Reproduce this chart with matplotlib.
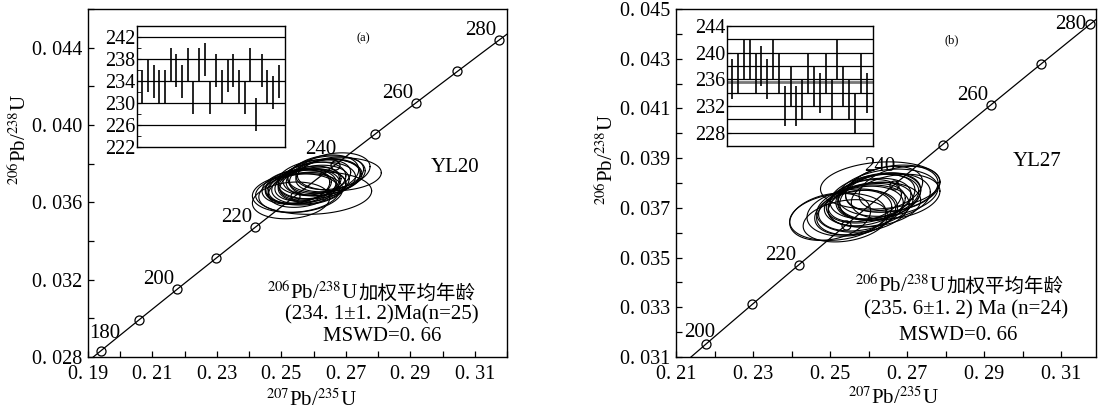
import numpy as np
import matplotlib.pyplot as plt
from matplotlib.ticker import FixedLocator, FuncFormatter

plt.rcParams['font.family'] = ['Liberation Serif', 'Noto Sans CJK SC']
plt.rcParams['mathtext.fontset'] = 'stix'

# decay constants, per Ma
L238 = 1.55125e-4
L235 = 9.8485e-4

# concordia age marks
conc_ages_a = [180, 190, 200, 210, 220, 230, 240, 250, 260, 270, 280]
conc_labels_a = [180, 200, 220, 240, 260, 280]
conc_ages_b = [200, 210, 220, 230, 240, 250, 260, 270, 280]
conc_labels_b = [200, 220, 240, 260, 280]

# tick values
xt_a = [0.19, 0.21, 0.23, 0.25, 0.27, 0.29, 0.31]
yt_a = [0.028, 0.032, 0.036, 0.040, 0.044]
xt_b = [0.21, 0.23, 0.25, 0.27, 0.29, 0.31]
yt_b = [0.031, 0.033, 0.035, 0.037, 0.039, 0.041, 0.043, 0.045]
it_a = [222, 226, 230, 234, 238, 242]
it_b = [228, 232, 236, 240, 244]

# YL20 spot ellipses: 207Pb/235U, 206Pb/238U, 2s errors, rho
a_x = [0.2560, 0.2610, 0.2590, 0.2545, 0.2575, 0.2630, 0.2620, 0.2580, 0.2640, 0.2545,
       0.2650, 0.2660, 0.2600, 0.2615, 0.2570, 0.2595, 0.2625, 0.2555, 0.2560, 0.2680,
       0.2530, 0.2635, 0.2585, 0.2565, 0.2600]
a_y = [0.03681, 0.03713, 0.03697, 0.03681, 0.03681, 0.03745, 0.03729, 0.03697, 0.03745, 0.03648,
       0.03745, 0.03761, 0.03648, 0.03729, 0.03681, 0.03713, 0.03729, 0.03681, 0.03648, 0.03745,
       0.03610, 0.03729, 0.03681, 0.03664, 0.03697]
a_sx = [0.0110, 0.0120, 0.0095, 0.0105, 0.0125, 0.0110, 0.0130, 0.0100, 0.0120, 0.0135,
        0.0105, 0.0115, 0.0180, 0.0100, 0.0110, 0.0105, 0.0120, 0.0100, 0.0130, 0.0130,
        0.0120, 0.0110, 0.0115, 0.0105, 0.0110]
a_sy = [0.00090, 0.00095, 0.00085, 0.00090, 0.00095, 0.00100, 0.00095, 0.00090, 0.00095, 0.00100,
        0.00090, 0.00095, 0.00110, 0.00090, 0.00090, 0.00095, 0.00095, 0.00085, 0.00100, 0.00085,
        0.00095, 0.00095, 0.00090, 0.00090, 0.00095]
a_rho = [0.25, 0.20, 0.30, 0.25, 0.15, 0.25, 0.20, 0.30, 0.20, 0.15,
         0.30, 0.25, 0.10, 0.30, 0.25, 0.25, 0.20, 0.30, 0.20, 0.10,
         0.15, 0.25, 0.20, 0.25, 0.25]

# YL27 spot ellipses
b_x = [0.2600, 0.2630, 0.2660, 0.2640, 0.2615, 0.2650, 0.2590, 0.2630, 0.2620, 0.2520,
       0.2605, 0.2500, 0.2570, 0.2670, 0.2595, 0.2580, 0.2640, 0.2555, 0.2680, 0.2610,
       0.2560, 0.2540, 0.2625, 0.2585]
b_y = [0.03729, 0.03745, 0.03777, 0.03777, 0.03745, 0.03761, 0.03729, 0.03790, 0.03745, 0.03664,
       0.03713, 0.03664, 0.03681, 0.03745, 0.03713, 0.03697, 0.03745, 0.03681, 0.03777, 0.03713,
       0.03681, 0.03648, 0.03745, 0.03697]
b_sx = [0.0110, 0.0105, 0.0120, 0.0100, 0.0115, 0.0130, 0.0095, 0.0155, 0.0100, 0.0125,
        0.0110, 0.0105, 0.0105, 0.0115, 0.0100, 0.0110, 0.0120, 0.0115, 0.0105, 0.0125,
        0.0100, 0.0110, 0.0110, 0.0120]
b_sy = [0.00090, 0.00095, 0.00095, 0.00090, 0.00090, 0.00095, 0.00085, 0.00095, 0.00090, 0.00095,
        0.00090, 0.00095, 0.00090, 0.00090, 0.00085, 0.00090, 0.00095, 0.00095, 0.00090, 0.00090,
        0.00090, 0.00085, 0.00095, 0.00095]
b_rho = [0.30, 0.30, 0.25, 0.30, 0.25, 0.20, 0.30, 0.15, 0.30, 0.20,
         0.25, 0.25, 0.25, 0.25, 0.30, 0.25, 0.20, 0.20, 0.30, 0.20,
         0.25, 0.25, 0.25, 0.20]

# weighted mean insets: 206Pb/238U ages and errors (Ma)
ages_a = [233, 235, 234, 233, 233, 237, 236, 234, 237, 231, 237, 238, 231,
          236, 233, 235, 236, 233, 231, 237, 228, 236, 233, 232, 234]
err_a = [3] * len(ages_a)
ages_b = [236, 237, 239, 239, 237, 238, 236, 239, 237, 232, 235, 232,
          233, 237, 235, 234, 237, 233, 239, 235, 233, 231, 237, 234]
err_b = [3] * len(ages_b)

W, H = 1099, 411
fig = plt.figure(figsize=(W / 100, H / 100), dpi=100)
FS = 15


def px(l, t, r, b):
    return [l / W, 1 - b / H, (r - l) / W, (b - t) / H]


def fx(x):
    return x / W


def fy(y):
    return 1 - y / H


def draw_main(ax, xs, ys, sxs, sys_, rhos, ages, labels, offsets):
    t = np.linspace(0, 2 * np.pi, 120)
    for cx, cy, sx, sy, rho in zip(xs, ys, sxs, sys_, rhos):
        ex = cx + sx * np.cos(t)
        ey = cy + sy * (rho * np.cos(t) + np.sqrt(1 - rho ** 2) * np.sin(t))
        ax.plot(ex, ey, color='k', lw=0.8)
    tc = np.linspace(150, 300, 300)
    ax.plot(np.exp(L235 * tc) - 1, np.exp(L238 * tc) - 1, color='k', lw=0.9)
    ages = np.array(ages)
    mx = np.exp(L235 * ages) - 1
    my = np.exp(L238 * ages) - 1
    ax.plot(mx, my, 'o', mfc='none', mec='k', ms=6.5, mew=0.9)
    for age, x, y in zip(ages, mx, my):
        if age in labels:
            dx, dy, ha, va = offsets.get(age, (-2, 0, 'right', 'bottom'))
            ax.annotate(str(age), (x, y), xytext=(dx, dy), textcoords='offset points',
                        ha=ha, va=va, fontsize=FS)
    ax.tick_params(direction='in', which='both', length=4, width=0.9, labelsize=14.5,
                   top=False, right=False)
    ax.tick_params(axis='x', pad=6)
    ax.tick_params(axis='y', pad=4)
    for s in ax.spines.values():
        s.set_linewidth(1.0)


def set_ticks(ax, xt, yt, xstep, ystep):
    ax.xaxis.set_major_locator(FixedLocator(xt))
    ax.xaxis.set_minor_locator(FixedLocator([v + xstep for v in xt]))
    ax.yaxis.set_major_locator(FixedLocator(yt))
    ax.yaxis.set_minor_locator(FixedLocator([v + ystep for v in yt]))
    ax.xaxis.set_major_formatter(FuncFormatter(lambda v, p: '0. %02d' % round(v * 100)))
    ax.yaxis.set_major_formatter(FuncFormatter(lambda v, p: '0. %03d' % round(v * 1000)))


def draw_inset(ax, ages, errs, ylim, lines, ticks, mean=None):
    idx = np.arange(1, len(ages) + 1)
    ages = np.array(ages)
    errs = np.array(errs)
    for v in lines:
        ax.axhline(v, color='k', lw=0.9)
    if mean is not None:
        ax.axhline(mean, color='#777777', lw=2.0)
    ax.vlines(idx, ages - errs, ages + errs, color='k', lw=1.2)
    ax.set_xlim(0.1, len(ages) + 1.1)
    ax.set_ylim(*ylim)
    ax.set_xticks([])
    ax.yaxis.set_major_locator(FixedLocator(ticks))
    ax.yaxis.set_minor_locator(FixedLocator([v + 2 for v in ticks]))
    ax.tick_params(direction='in', which='both', length=3, labelsize=14.5, pad=1)
    for s in ax.spines.values():
        s.set_linewidth(1.0)


def age_text(x0, y0):
    # 206Pb/238U part in mathtext, Chinese part as plain text right after it
    t1 = fig.text(fx(x0), fy(y0), r'$^{206}$Pb/$^{238}$U', ha='left', va='baseline', fontsize=FS)
    fig.canvas.draw()
    bb = t1.get_window_extent()
    fig.text(bb.x1 / W + 1 / W, fy(y0), '加权平均年龄', ha='left', va='baseline',
             fontsize=FS - 1, family=['Noto Sans CJK SC'])


# ---- panel (a)
ax1 = fig.add_axes(px(88, 9, 507, 357))
draw_main(ax1, a_x, a_y, a_sx, a_sy, a_rho, conc_ages_a, conc_labels_a,
          {180: (3, 6, 'center', 'bottom'), 240: (1, 4, 'right', 'bottom')})
ax1.set_xlim(0.19, 0.32)
ax1.set_ylim(0.028, 0.046)
set_ticks(ax1, xt_a, yt_a, 0.01, 0.002)

ins1 = fig.add_axes(px(137, 26, 285, 147))
draw_inset(ins1, ages_a, err_a, (222, 244), [226, 230, 234, 238, 242], it_a)

fig.text(fx(20), fy(140), r'$^{206}$Pb/$^{238}$U', rotation=90, ha='center', va='center', fontsize=FS)
fig.text(fx(311), fy(400), r'$^{207}$Pb/$^{235}$U', ha='center', va='center', fontsize=FS)
fig.text(fx(363), fy(38), '(a)', ha='center', va='center', fontsize=9)
fig.text(fx(455), fy(167), 'YL20', ha='center', va='center', fontsize=FS)
age_text(267, 299)
fig.text(fx(382), fy(315), '(234. 1±1. 2)Ma(n=25)', ha='center', va='center', fontsize=FS)
fig.text(fx(382), fy(336), 'MSWD=0. 66', ha='center', va='center', fontsize=FS)

# ---- panel (b)
ax2 = fig.add_axes(px(676, 9, 1096, 357))
draw_main(ax2, b_x, b_y, b_sx, b_sy, b_rho, conc_ages_b, conc_labels_b,
          {200: (7, 2, 'right', 'bottom'), 240: (1, 6, 'right', 'bottom'),
           280: (-3, 0, 'right', 'center')})
ax2.set_xlim(0.21, 0.319)
ax2.set_ylim(0.031, 0.045)
set_ticks(ax2, xt_b, yt_b, 0.01, 0.001)

ins2 = fig.add_axes(px(727, 26, 873, 146))
draw_inset(ins2, ages_b, err_b, (226, 244), [228, 230, 232, 234, 236, 238, 240, 242], it_b,
           mean=235.6)

fig.text(fx(607), fy(160), r'$^{206}$Pb/$^{238}$U', rotation=90, ha='center', va='center', fontsize=FS)
fig.text(fx(893), fy(398), r'$^{207}$Pb/$^{235}$U', ha='center', va='center', fontsize=FS)
fig.text(fx(952), fy(40), '(b)', ha='center', va='center', fontsize=9)
fig.text(fx(1037), fy(161), 'YL27', ha='center', va='center', fontsize=FS)
age_text(855, 292)
fig.text(fx(966), fy(310), '(235. 6±1. 2) Ma (n=24)', ha='center', va='center', fontsize=FS)
fig.text(fx(958), fy(335), 'MSWD=0. 66', ha='center', va='center', fontsize=FS)

fig.savefig('out.png', dpi=100)
